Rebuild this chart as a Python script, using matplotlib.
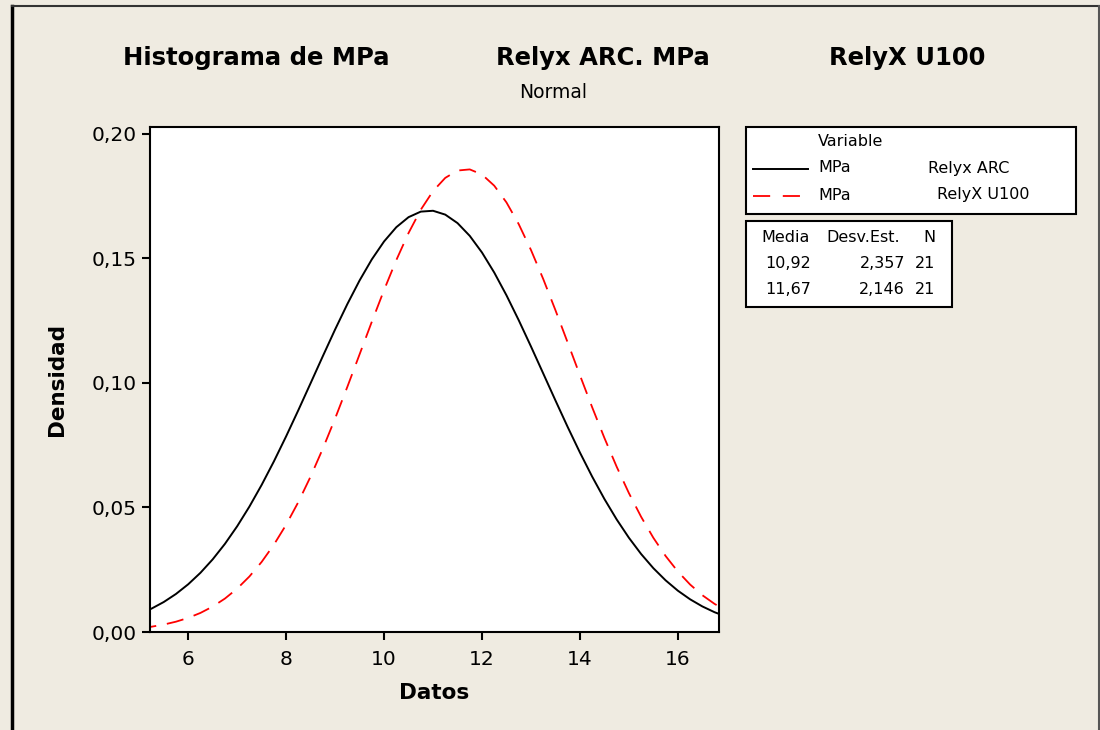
import matplotlib
matplotlib.use("Agg")
import matplotlib.pyplot as plt
from matplotlib.patches import Rectangle
from matplotlib.lines import Line2D
from matplotlib.ticker import FuncFormatter

# ---- data ----
datos = [5.0, 5.25, 5.5, 5.75, 6.0, 6.25, 6.5, 6.75, 7.0, 7.25, 7.5, 7.75,
         8.0, 8.25, 8.5, 8.75, 9.0, 9.25, 9.5, 9.75, 10.0, 10.25, 10.5, 10.75,
         11.0, 11.25, 11.5, 11.75, 12.0, 12.25, 12.5, 12.75, 13.0, 13.25, 13.5,
         13.75, 14.0, 14.25, 14.5, 14.75, 15.0, 15.25, 15.5, 15.75, 16.0, 16.25,
         16.5, 16.75, 17.0]
dens_arc = [0.00722, 0.00938, 0.01203, 0.01527, 0.01916, 0.02377, 0.02917,
            0.03539, 0.04246, 0.05036, 0.05907, 0.06851, 0.07858, 0.08911,
            0.09992, 0.11079, 0.12148, 0.13168, 0.14117, 0.14964, 0.15684,
            0.16256, 0.16659, 0.16882, 0.16916, 0.16761, 0.16421, 0.15908,
            0.15239, 0.14435, 0.13520, 0.12521, 0.11467, 0.10384, 0.09298,
            0.08232, 0.07207, 0.06239, 0.05341, 0.04521, 0.03784, 0.03131,
            0.02562, 0.02074, 0.01659, 0.01313, 0.01027, 0.00794, 0.00608]
dens_u100 = [0.00149, 0.00212, 0.00298, 0.00414, 0.00567, 0.00766, 0.01021,
             0.01342, 0.01742, 0.02229, 0.02814, 0.03506, 0.04307, 0.05221,
             0.06244, 0.07366, 0.08573, 0.09844, 0.11150, 0.12459, 0.13733,
             0.14935, 0.16023, 0.16958, 0.17706, 0.18237, 0.18532, 0.18577,
             0.18372, 0.17923, 0.17250, 0.16379, 0.15342, 0.14177, 0.12923,
             0.11622, 0.10311, 0.09024, 0.07792, 0.06638, 0.05578, 0.04624,
             0.03781, 0.03051, 0.02428, 0.01906, 0.01477, 0.01128, 0.00851]
x_ticks = [6, 8, 10, 12, 14, 16]
y_ticks = [0.00, 0.05, 0.10, 0.15, 0.20]
legend_names = ["Relyx ARC", "RelyX U100"]
stat_media = ["10,92", "11,67"]
stat_desv = ["2,357", "2,146"]
stat_n = ["21", "21"]

W, H = 1100, 730
BG = "#EFEBE1"
fig = plt.figure(figsize=(W / 100, H / 100), dpi=100, facecolor=BG)
plt.rcParams['font.family'] = ['DejaVu Sans']


def fx(x):
    return x / W


def fy(y):
    return 1 - y / H


ax = fig.add_axes([fx(150), fy(632), fx(719) - fx(150), fy(127) - fy(632)])
ax.set_facecolor("white")
ax.plot(datos, dens_arc, color="black", lw=1.4)
ax.plot(datos, dens_u100, color="#FF0000", lw=1.3, dashes=(9.5, 6))
ax.set_xlim(5.22, 16.84)
ax.set_ylim(0.0, 0.2028)
ax.set_xticks(x_ticks)
ax.set_yticks(y_ticks)
ax.yaxis.set_major_formatter(FuncFormatter(lambda v, p: f"{v:.2f}".replace(".", ",")))
ax.tick_params(direction="out", length=6, width=1.5, labelsize=14.5, colors="black")
ax.tick_params(axis="x", pad=7)
for s in ax.spines.values():
    s.set_linewidth(1.5)
ax.set_xlabel("Datos", fontsize=15.5, fontweight="bold", labelpad=10)
ax.set_ylabel("Densidad", fontsize=15.5, fontweight="bold", labelpad=18)

# titles
fig.text(fx(256), fy(58), "Histograma de MPa", ha="center", va="center",
         fontsize=17.5, fontweight="bold")
fig.text(fx(603), fy(58), "Relyx ARC. MPa", ha="center", va="center",
         fontsize=17.5, fontweight="bold")
fig.text(fx(907), fy(58), "RelyX U100", ha="center", va="center",
         fontsize=17.5, fontweight="bold")
fig.text(fx(553), fy(93), "Normal", ha="center", va="center", fontsize=13.5)

# legend box
fig.add_artist(Rectangle((fx(746), fy(214)), fx(1076) - fx(746), fy(127) - fy(214),
                         transform=fig.transFigure, facecolor="white",
                         edgecolor="black", lw=1.5))
fs = 11.5
fig.text(fx(818), fy(142), "Variable", ha="left", va="center", fontsize=fs)
fig.add_artist(Line2D([fx(753), fx(808)], [fy(169), fy(169)], color="black",
                      lw=1.4, transform=fig.transFigure))
fig.add_artist(Line2D([fx(753), fx(808)], [fy(196), fy(196)], color="#FF0000",
                      lw=1.3, dashes=(9.5, 7), transform=fig.transFigure))
fig.text(fx(818), fy(168), "MPa", ha="left", va="center", fontsize=fs)
fig.text(fx(818), fy(195), "MPa", ha="left", va="center", fontsize=fs)
fig.text(fx(928), fy(168), legend_names[0], ha="left", va="center", fontsize=fs)
fig.text(fx(937), fy(195), legend_names[1], ha="left", va="center", fontsize=fs)

# stats box
fig.add_artist(Rectangle((fx(746), fy(307)), fx(952) - fx(746), fy(221) - fy(307),
                         transform=fig.transFigure, facecolor="white",
                         edgecolor="black", lw=1.5))
fig.text(fx(786), fy(237), "Media", ha="center", va="center", fontsize=fs)
fig.text(fx(863), fy(237), "Desv.Est.", ha="center", va="center", fontsize=fs)
fig.text(fx(929), fy(237), "N", ha="center", va="center", fontsize=fs)
for i, yy in enumerate([263, 290]):
    fig.text(fx(811), fy(yy), stat_media[i], ha="right", va="center", fontsize=fs)
    fig.text(fx(905), fy(yy), stat_desv[i], ha="right", va="center", fontsize=fs)
    fig.text(fx(915), fy(yy), stat_n[i], ha="left", va="center", fontsize=fs)

# outer frame
fig.add_artist(Line2D([fx(12), fx(12)], [0, fy(6)], color="black", lw=2.5,
                      transform=fig.transFigure))
fig.add_artist(Line2D([fx(12), fx(1099)], [fy(6), fy(6)], color="#333333", lw=1.5,
                      transform=fig.transFigure))
fig.add_artist(Line2D([fx(1099), fx(1099)], [0, fy(6)], color="#555555", lw=1.5,
                      transform=fig.transFigure))

fig.savefig("out.png", dpi=100, facecolor=BG)
